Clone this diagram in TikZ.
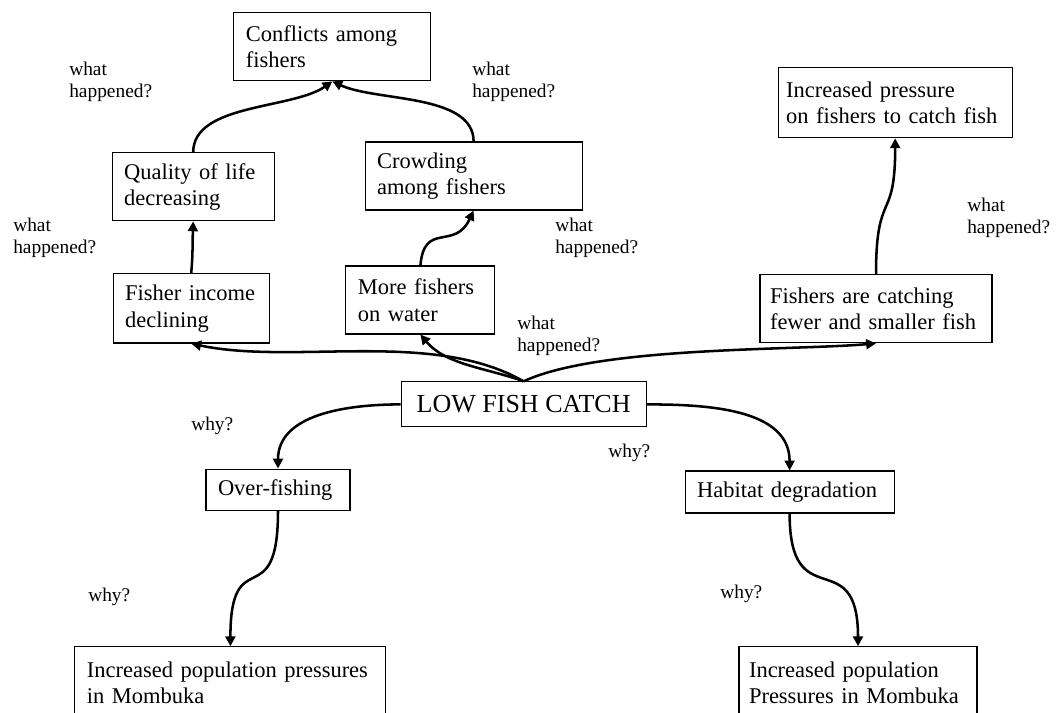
\documentclass[tikz,border=0pt]{standalone}
\usepackage{fontspec}
\setmainfont{Liberation Serif}
\definecolor{InkBlack}{HTML}{000000}
\usetikzlibrary{arrows.meta}
\tikzset{
  box/.style={draw=InkBlack, line width=0.8pt, fill=white, align=left, inner xsep=0.3cm, inner ysep=0pt, font=\fontsize{16pt}{18.9pt}\selectfont},
  arrow/.style={-{Triangle[length=7pt, width=7pt]}, line width=1.8pt, draw=InkBlack}
}

\begin{document}
\begin{tikzpicture}[
  qlabel/.style={anchor=west, align=left, inner sep=0pt, font=\fontsize{13.8pt}{15.6pt}\selectfont}
]
\useasboundingbox (0,0) rectangle (26.425,17.8);
\clip (0,0) rectangle (26.425,17.8);

% effects (upper half)
\node[box, text width=4.325cm, minimum height=1.7cm] (conf) at (8.31,16.63) {Conflicts among\\fishers};
\node[box, text width=3.45cm, minimum height=1.7cm] (qual) at (4.83,13.13) {Quality of life\\decreasing};
\node[box, text width=4.825cm, minimum height=1.7cm] (crowd) at (11.84,13.4) {Crowding\\among fishers};
\node[box, text width=3.3cm, minimum height=1.73cm] (income) at (4.78,10.09) {Fisher income\\declining};
\node[box, text width=3.125cm, minimum height=1.7cm] (more) at (10.51,10.3) {More fishers\\on water};
\node[box, inner xsep=0.2cm, text width=5.45cm, minimum height=1.75cm] (press) at (22.38,15.23) {Increased pressure\\on fishers to catch fish};
\node[box, inner xsep=0.25cm, text width=5.3cm, minimum height=1.7cm] (catch) at (21.9,10.08) {Fishers are catching\\fewer and smaller fish};

% core problem
\node[box, align=center, minimum width=6.125cm, minimum height=1.125cm, font=\fontsize{18.5pt}{22pt}\selectfont] (low) at (13.09,7.69) {LOW FISH CATCH};

% causes (lower half)
\node[box, text width=3.0cm, minimum height=1.025cm] (over) at (6.95,5.56) {Over-fishing};
\node[box, text width=4.625cm, minimum height=1.05cm] (habitat) at (19.74,5.5) {Habitat degradation};
\node[box, text width=7.175cm, minimum height=1.8cm] (bl) at (5.76,0.73) {Increased population pressures\\in Mombuka};
\node[box, inner xsep=0.25cm, text width=5.45cm, minimum height=1.8cm] (br) at (21.45,0.73) {Increased population\\Pressures in Mombuka};

% questions
\node[qlabel] (wh1) at (1.725,15.75) {what\\happened?};
\node[qlabel] (wh2) at (11.8,15.75) {what\\happened?};
\node[qlabel] (wh3) at (0.325,11.85) {what\\happened?};
\node[qlabel] (wh4) at (13.875,11.86) {what\\happened?};
\node[qlabel] (wh5) at (12.925,9.4) {what\\happened?};
\node[qlabel] (wh6) at (24.175,12.35) {what\\happened?};
\node[qlabel] (why1) at (4.775,7.15) {why?};
\node[qlabel] (why2) at (15.2,6.475) {why?};
\node[qlabel] (why3) at (2.2,2.875) {why?};
\node[qlabel] (why4) at (18.0,2.95) {why?};

\draw[arrow] (qual.north) to[out=90, in=-145, looseness=0.8] (conf.south);
\draw[arrow] (crowd.north) to[out=90, in=-25, looseness=0.8] (conf.south);
\draw[arrow] (income.north) to[out=85, in=-92] (qual.south);
\draw[arrow] (more.north) to[out=85, in=-115, looseness=1.5] (crowd.south);
\draw[arrow] (catch.north) to[out=90, in=-90, looseness=1.6] (press.south);
\draw[arrow] (low.north) to[out=150, in=-12, looseness=0.8] (income.south);
\draw[arrow] (low.north) to[out=160, in=-50, looseness=0.9] (more.south);
\draw[arrow] (low.north) to[out=25, in=185, looseness=0.6] (catch.south);
\draw[arrow] (low.west) to[out=180, in=90] (over.north);
\draw[arrow] (low.east) to[out=0, in=90] (habitat.north);
\draw[arrow] (over.south) to[out=-90, in=90, looseness=1.9] (bl.north);
\draw[arrow] (habitat.south) to[out=-90, in=90, looseness=1.8] (br.north);
\end{tikzpicture}
\end{document}
